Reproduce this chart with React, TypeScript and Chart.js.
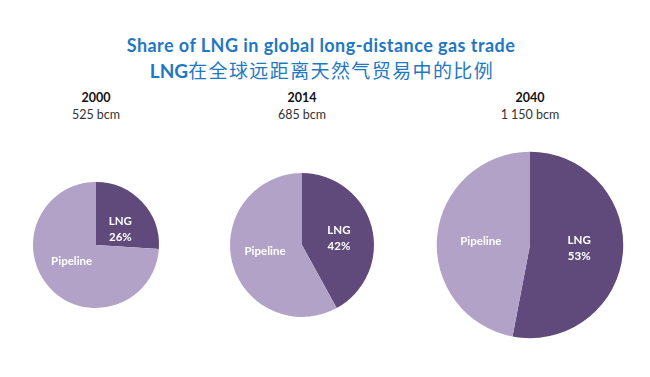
import React, { useEffect, useRef } from "react";
import { Chart, registerables } from "chart.js";

Chart.register(...registerables);

const titleEn = "Share of LNG in global long-distance gas trade";
const titleZhLatin = "LNG";
const titleZh = "在全球远距离天然气贸易中的比例";

const years = ["2000", "2014", "2040"];
const totals = [525, 685, 1150];
const totalLabels = ["525 bcm", "685 bcm", "1 150 bcm"];
const sliceNames = ["LNG", "Pipeline"];
const lngShare = [26, 42, 53];
const pipelineShare = [74, 58, 47];

const COLORS = ["#604A7B", "#B3A2C7"];
const BLUE = "#1F78C4";
const FONT = "Lato, 'Open Sans', sans-serif";
const CANVAS = 196;
const CENTERS_X = [96, 302, 530];
const CENTER_Y = 245;
const RADIUS_SCALE = 63 / Math.sqrt(525);

const labelPlugin = {
  id: "sliceLabels",
  afterDatasetsDraw(chart: any) {
    const ctx = chart.ctx;
    const meta = chart.getDatasetMeta(0);
    const ds = chart.data.datasets[0];
    meta.data.forEach((arc: any, i: number) => {
      const p = arc.getProps(["x", "y", "startAngle", "endAngle", "outerRadius"], true);
      const mid = (p.startAngle + p.endAngle) / 2;
      const f = 0.53;
      const x = p.x + Math.cos(mid) * p.outerRadius * f;
      const y = p.y + Math.sin(mid) * p.outerRadius * f * 0.7;
      const lines = i === 0 ? [chart.data.labels[i], ds.data[i] + "%"] : [chart.data.labels[i]];
      ctx.save();
      ctx.fillStyle = "#ffffff";
      ctx.font = "bold 11.5px " + FONT;
      ctx.textAlign = "center";
      ctx.textBaseline = "middle";
      const lh = 16;
      lines.forEach((t: string, k: number) => {
        ctx.fillText(t, x, y + (k - (lines.length - 1) / 2) * lh);
      });
      ctx.restore();
    });
  },
};

function Pie({ index }: { index: number }) {
  const ref = useRef<HTMLCanvasElement | null>(null);
  useEffect(() => {
    if (!ref.current) return;
    const chart = new Chart(ref.current, {
      type: "pie",
      data: {
        labels: sliceNames,
        datasets: [
          {
            data: [lngShare[index], pipelineShare[index]],
            backgroundColor: COLORS,
            borderWidth: 0,
            radius: RADIUS_SCALE * Math.sqrt(totals[index]),
          } as any,
        ],
      },
      options: {
        animation: false,
        responsive: false,
        maintainAspectRatio: false,
        layout: { padding: 0 },
        plugins: {
          legend: { display: false },
          tooltip: { enabled: false },
          title: { display: false },
        },
      },
      plugins: [labelPlugin],
    });
    return () => chart.destroy();
  }, [index]);
  return (
    <canvas
      ref={ref}
      width={CANVAS}
      height={CANVAS}
      style={{
        position: "absolute",
        left: CENTERS_X[index] - CANVAS / 2,
        top: CENTER_Y - CANVAS / 2,
        width: CANVAS,
        height: CANVAS,
      }}
    />
  );
}

export default function App() {
  return (
    <div
      style={{
        position: "absolute",
        left: 0,
        top: 0,
        width: 650,
        height: 377,
        background: "#ffffff",
        overflow: "hidden",
        fontFamily: FONT,
      }}
    >
      <div
        style={{
          position: "absolute",
          left: 0,
          width: 642,
          top: 34,
          textAlign: "center",
          color: BLUE,
          fontWeight: 700,
          fontSize: 18,
          letterSpacing: 0.45,
          lineHeight: "22px",
        }}
      >
        {titleEn}
      </div>
      <div
        style={{
          position: "absolute",
          left: 0,
          width: 644,
          top: 58,
          textAlign: "center",
          color: BLUE,
          fontSize: 19,
          lineHeight: "24px",
        }}
      >
        <span style={{ fontWeight: 700 }}>{titleZhLatin}</span>
        <span style={{ fontFamily: "'Noto Sans CJK SC', sans-serif", fontWeight: 400, letterSpacing: 1.4 }}>{titleZh}</span>
      </div>
      {years.map((y, i) => (
        <div
          key={y}
          style={{
            position: "absolute",
            left: CENTERS_X[i] - 60,
            width: 120,
            top: 89,
            textAlign: "center",
            fontSize: 12.5,
            lineHeight: "17px",
          }}
        >
          <div style={{ fontWeight: 700, color: "#111" }}>{y}</div>
          <div style={{ color: "#333" }}>{totalLabels[i]}</div>
        </div>
      ))}
      {years.map((y, i) => (
        <Pie key={"p" + y} index={i} />
      ))}
    </div>
  );
}
